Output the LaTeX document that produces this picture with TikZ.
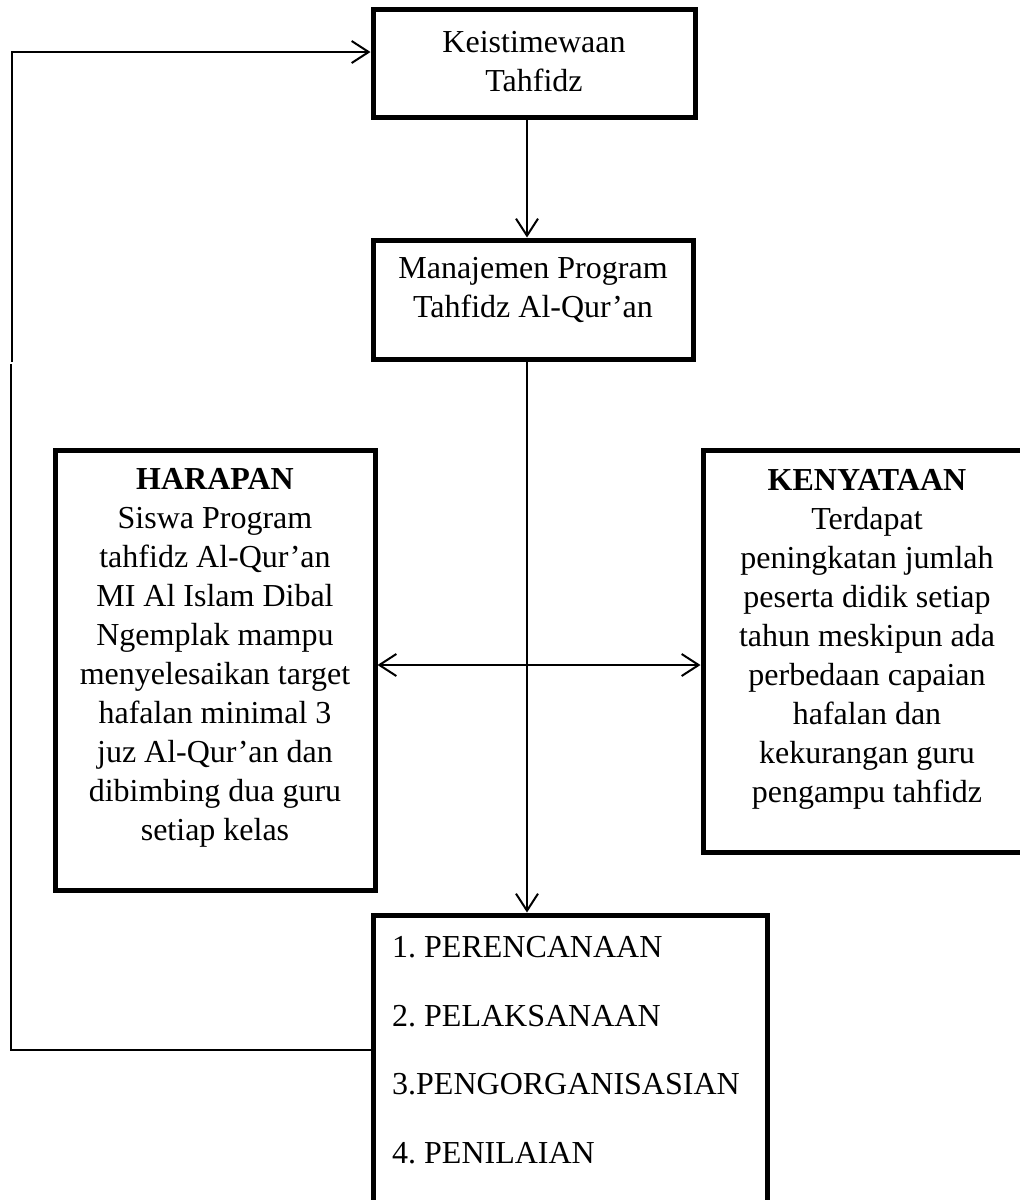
\documentclass[tikz,border=0pt]{standalone}
\usepackage{fontspec}
\setmainfont{Liberation Serif}
\usetikzlibrary{arrows.meta}
\frenchspacing
\begin{document}
\begin{tikzpicture}[x=1pt,y=-1pt,
  box/.style={draw, line width=5pt, inner sep=0pt, rectangle},
  txt/.style={align=center, font=\fontsize{32}{39}\selectfont, inner sep=0pt},
  conn/.style={line width=2pt},
  tip/.tip={Straight Barb[length=17pt,width=22pt,line width=2pt]},
  arr/.style={conn, -tip},
  darr/.style={conn, tip-tip}]
\useasboundingbox (0,0) rectangle (1020,1200);
\clip (0,0) rectangle (1020,1200);
% boxes
\node[box, minimum width=322pt, minimum height=108pt] (b1) at (534,63) {};
\node[box, minimum width=320pt, minimum height=119pt] (b2) at (533,299.5) {};
\node[box, minimum width=320pt, minimum height=440pt] (b3) at (215,670) {};
\node[box, minimum width=328pt, minimum height=402pt] (b4) at (867,651) {};
\node[box, minimum width=394pt, minimum height=325pt] (b5) at (570,1077.5) {};
% texts
\node[txt] (t1) at (534,62) {Keistimewaan\\Tahfidz};
\node[txt] (t2) at (533,290) {Manajemen Program\\Tahfidz Al-Qur’an};
\node[txt] (t3) at (215,658) {\textbf{HARAPAN}\\Siswa Program\\tahfidz Al-Qur’an\\MI Al Islam Dibal\\Ngemplak mampu\\menyelesaikan target\\hafalan minimal 3\\juz Al-Qur’an dan\\dibimbing dua guru\\setiap kelas};
\node[txt] (t4) at (867,639) {\textbf{KENYATAAN}\\Terdapat\\peningkatan jumlah\\peserta didik setiap\\tahun meskipun ada\\perbedaan capaian\\hafalan dan\\kekurangan guru\\pengampu tahfidz};
\node[txt, align=left, anchor=west, font=\fontsize{32}{68.5}\selectfont] (t5) at (392,1050) {1. PERENCANAAN\\2. PELAKSANAAN\\3.PENGORGANISASIAN\\4. PENILAIAN};
% helper coordinates
\coordinate (vx) at (527,0);
\coordinate (hy) at (0,665);
\coordinate (ly) at (0,1050);
\coordinate (ay) at (0,52);
\coordinate (gaplow) at (11,364);
\coordinate (gaphigh) at (12,362);
% connectors
\draw[arr] (b1.south -| vx) -- (b2.north -| vx);
\draw[arr] (b2.south -| vx) -- (b5.north -| vx);
\draw[darr] (b3.east |- hy) -- (b4.west |- hy);
\draw[conn] (b5.west |- ly) -| (gaplow);
\draw[arr] (gaphigh) |- (b1.west |- ay);
\end{tikzpicture}
\end{document}
